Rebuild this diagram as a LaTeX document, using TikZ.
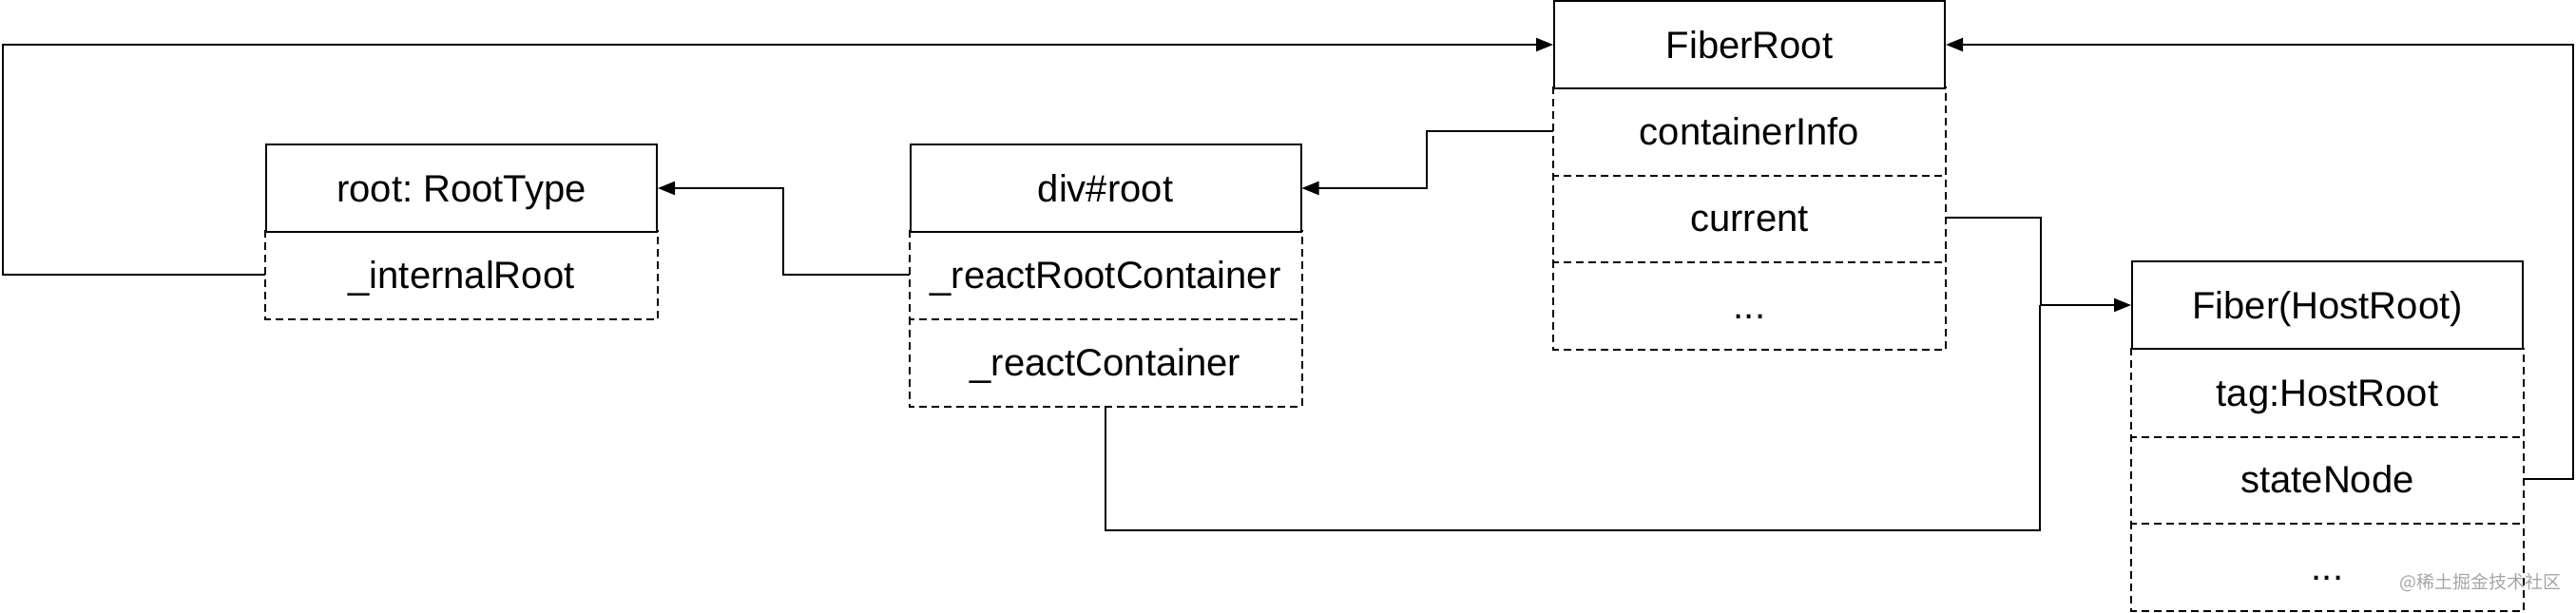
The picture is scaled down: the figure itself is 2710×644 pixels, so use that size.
\documentclass[tikz,border=0pt]{standalone}
\usepackage{fontspec}
\setmainfont{Liberation Sans}
\newfontfamily\cjkfont{Noto Sans CJK SC}
\frenchspacing
\usetikzlibrary{arrows.meta}
\tikzset{
  headbox/.style={draw, line width=1pt, minimum width=205.5pt, minimum height=45.75pt,
    inner sep=0pt, text height=14.3pt, text depth=0pt, font=\fontsize{20}{24}\selectfont},
  fieldbox/.style={headbox, draw=none},
  fieldline/.style={line width=1pt, dash pattern=on 4pt off 2.5pt},
  link/.style={line width=1pt},
  linkarrow/.style={link, -{Triangle[length=9pt,width=7pt]}}
}
\newcommand{\drawhead}[4]{
    \node[headbox] (#1) at (#2,#3) {#4};
  }
\newcommand{\drawfield}[4]{
    \node[fieldbox] (#1) at (#2,#3) {#4};
    \draw[fieldline] (#1.north west) -- (#1.south west) -- (#1.south east) -- (#1.north east);
  }

\begin{document}
\begin{tikzpicture}[x=0.5pt, y=-0.5pt]
  \useasboundingbox (0,0) rectangle (2710,644);

  \drawfield{internal}{485.5}{289}{\_internalRoot}
  \drawhead{roottype}{485.5}{198}{root: RootType}

  \drawfield{rrc}{1163}{289}{\_reactRootContainer}
  \drawfield{rc}{1163}{381}{\_reactContainer}
  \drawhead{divroot}{1163}{198}{div\#root}

  \drawfield{cinfo}{1840.5}{138}{containerInfo}
  \drawfield{current}{1840.5}{229}{current}
  \drawfield{frmore}{1840.5}{321}{...}
  \drawhead{fiberroot}{1840.5}{47}{FiberRoot}

  \drawfield{tag}{2448.5}{413}{tag:HostRoot}
  \drawfield{statenode}{2448.5}{504}{stateNode}
  \drawfield{fmore}{2448.5}{596}{...}
  \drawhead{fiber}{2448.5}{321}{Fiber(HostRoot)}

  \coordinate (leftrail) at (3,0);
  \coordinate (bus) at (2146,558);

  \draw[linkarrow] (internal.west) -- (internal.west -| leftrail) |- (fiberroot.west);
  \draw[linkarrow] (rrc.west) -- ++(-133,0) |- (roottype.east);
  \draw[linkarrow] (cinfo.west) -- ++(-133,0) |- (divroot.east);
  \draw[linkarrow] (current.east) -- ++(100,0) |- (fiber.west);
  \draw[link] (rc.south) |- (bus) -- (bus |- fiber.west);
  \draw[linkarrow] (statenode.east) -- ++(52,0) |- (fiberroot.east);

  \node[text=black!35, font=\cjkfont\fontsize{9.5}{11}\selectfont] (mark) at (2609,613) {@稀土掘金技术社区};
\end{tikzpicture}
\end{document}
